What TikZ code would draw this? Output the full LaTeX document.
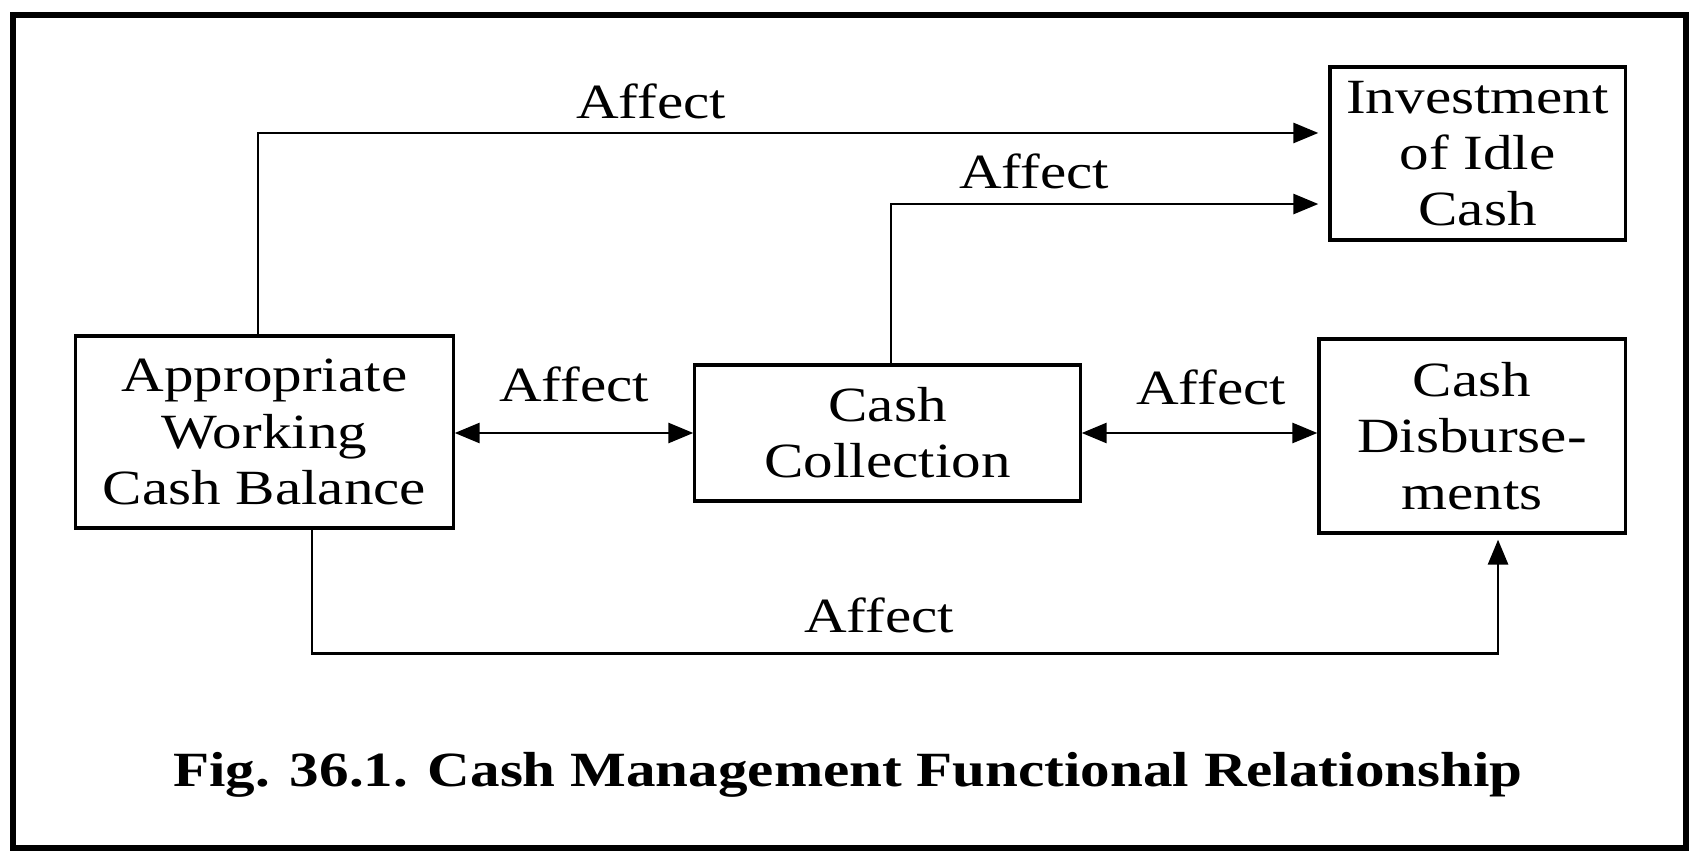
\documentclass[tikz,border=0pt]{standalone}
\usepackage{fontspec}
\setmainfont{Liberation Serif}[FakeStretch=1.2]
\usetikzlibrary{arrows.meta}
\begin{document}
\begin{tikzpicture}[x=0.01cm,y=-0.01cm,
  txt/.style={font=\fontsize{14}{16}\selectfont, inner sep=0pt},
  boxnode/.style={txt, draw, line width=0.9pt, align=center, anchor=center},
  lbl/.style={txt},
  conn/.style={line width=0.8pt, -{Triangle[length=0.25cm,width=0.2cm]}},
  conn2/.style={line width=0.8pt, {Triangle[length=0.25cm,width=0.2cm]}-{Triangle[length=0.25cm,width=0.2cm]}}
]
\useasboundingbox (0,0) rectangle (1698,855);
\draw[line width=1.6pt] (13,15) rectangle (1686,848);

\node[boxnode, minimum width=3.77cm, minimum height=1.92cm] (awcb) at (264.5,432) {Appropriate\\Working\\Cash Balance};
\node[boxnode, minimum width=3.85cm, minimum height=1.36cm] (cc) at (887.5,433) {Cash\\Collection};
\node[boxnode, minimum width=2.95cm, minimum height=1.73cm] (inv) at (1477.5,153.5) {Investment\\of Idle\\Cash};
\node[boxnode, minimum width=3.06cm, minimum height=1.94cm] (cd) at (1472,436) {Cash\\Disburse-\\ments};

\draw[conn, shorten >=0.1cm] ([xshift=-0.065cm]awcb.north) |- ([yshift=0.205cm]inv.west);
\draw[conn, shorten >=0.1cm] ([xshift=0.035cm]cc.north) |- ([yshift=-0.505cm]inv.west);
\draw[conn2] (cc.west) -- (cc.west -| awcb.east);
\draw[conn2] (cc.east) -- (cc.east -| cd.west);
\draw[conn, shorten >=0.05cm] ([xshift=0.475cm]awcb.south) -- ++(0,124) -| ([xshift=0.26cm]cd.south);

\node[lbl] (l1) at (651,101) {Affect};
\node[lbl] (l2) at (1034,171) {Affect};
\node[lbl] (l3) at (574,384) {Affect};
\node[lbl] (l4) at (1211,387) {Affect};
\node[lbl] (l5) at (879,615) {Affect};
\node[txt, font=\fontsize{14}{16}\selectfont\bfseries] (cap) at (848,775) {Fig. 36.1. Cash Management Functional Relationship};
\end{tikzpicture}
\end{document}
